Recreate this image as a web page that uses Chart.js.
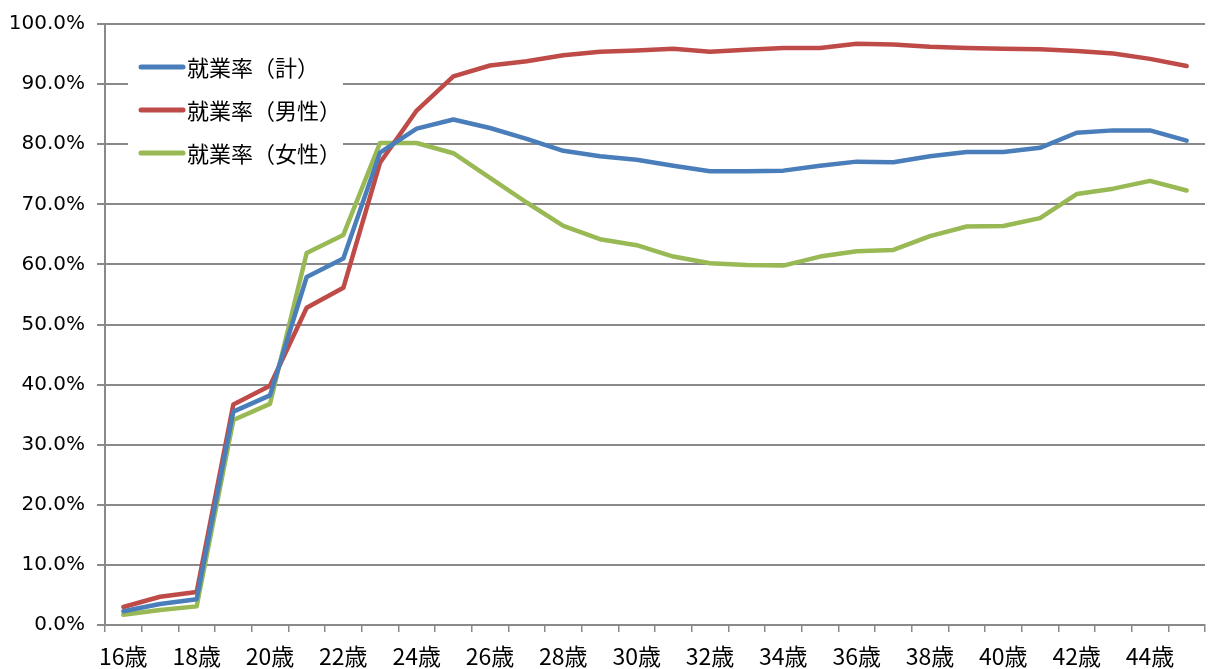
<!DOCTYPE html>
<html>
<head>
<meta charset="utf-8">
<script src="https://cdn.jsdelivr.net/npm/chart.js@4"></script>
<style>
html, body { margin: 0; padding: 0; background: #fff; }
#wrap { width: 1213px; height: 669px; }
</style>
</head>
<body>
<div id="wrap"><canvas id="chart" width="1213" height="669"></canvas></div>
<script>
const ages = [];
for (let a = 16; a <= 45; a++) ages.push(`${a}歳`);

const rateTotal = [2.3, 3.5, 4.3, 35.5, 38.2, 57.9, 61.0, 78.6, 82.6, 84.1, 82.7, 80.9, 78.9, 78.0, 77.4, 76.4, 75.5, 75.5, 75.6, 76.4, 77.1, 77.0, 78.0, 78.7, 78.7, 79.4, 81.9, 82.3, 82.3, 80.6];
const rateMale = [3.0, 4.7, 5.5, 36.7, 39.8, 52.8, 56.1, 76.9, 85.6, 91.3, 93.1, 93.8, 94.8, 95.4, 95.6, 95.9, 95.4, 95.7, 96.0, 96.0, 96.7, 96.6, 96.2, 96.0, 95.9, 95.8, 95.5, 95.1, 94.2, 93.0];
const rateFemale = [1.7, 2.5, 3.1, 34.1, 36.8, 61.9, 64.9, 80.2, 80.2, 78.5, 74.4, 70.3, 66.4, 64.2, 63.2, 61.3, 60.2, 59.9, 59.8, 61.3, 62.2, 62.4, 64.7, 66.3, 66.4, 67.7, 71.7, 72.6, 73.9, 72.3];

const yTicks = [0, 10, 20, 30, 40, 50, 60, 70, 80, 90, 100];

const gridGray = "#898989";
const fontJP = "'Noto Sans CJK JP', 'Noto Sans', sans-serif";

// legend drawn inside the plot, top-left, on a white box
const insideLegend = {
	id: "insideLegend",
	afterDraw(chart) {
		const { ctx, chartArea } = chart;
		const x0 = chartArea.left + 23;
		const y0 = chartArea.top + 16;
		ctx.save();
		ctx.fillStyle = "#fff";
		ctx.fillRect(x0, y0, 215, 130);
		ctx.font = `22px ${fontJP}`;
		ctx.textBaseline = "middle";
		chart.data.datasets.forEach((ds, i) => {
			const y = y0 + 27 + i * 43;
			ctx.strokeStyle = ds.borderColor;
			ctx.lineWidth = 5;
			ctx.lineCap = "round";
			ctx.beginPath();
			ctx.moveTo(x0 + 13, y);
			ctx.lineTo(x0 + 55, y);
			ctx.stroke();
			ctx.fillStyle = "#000";
			ctx.fillText(ds.label, x0 + 59, y + 1);
		});
		ctx.restore();
	},
};

new Chart(document.getElementById("chart"), {
	type: "line",
	data: {
		labels: ages,
		datasets: [
			{ label: "就業率（計）", data: rateTotal, borderColor: "#4A7EBB" },
			{ label: "就業率（男性）", data: rateMale, borderColor: "#BE4B48" },
			{ label: "就業率（女性）", data: rateFemale, borderColor: "#98B954" },
		],
	},
	options: {
		responsive: false,
		animation: false,
		layout: { padding: { top: 22, right: 8, left: 0, bottom: 0 } },
		elements: {
			line: { borderWidth: 4.5, tension: 0, borderCapStyle: "round", borderJoinStyle: "round" },
			point: { radius: 0, hoverRadius: 0 },
		},
		plugins: {
			legend: { display: false },
			tooltip: { enabled: false },
		},
		scales: {
			x: {
				offset: true,
				grid: {
					offset: true,
					drawOnChartArea: false,
					drawTicks: true,
					tickLength: 7,
					color: gridGray,
					lineWidth: 1.5,
				},
				border: { color: gridGray, width: 2 },
				ticks: {
					autoSkip: false,
					maxRotation: 0,
					padding: 10,
					color: "#000",
					font: { size: 23, family: fontJP },
					callback: (v, i) => (i % 2 === 0 ? ages[i] : ""),
				},
				afterFit: (scale) => { scale.height = 44; },
			},
			y: {
				min: 0,
				max: 100,
				afterBuildTicks: (scale) => { scale.ticks = yTicks.map((v) => ({ value: v })); },
				grid: {
					color: gridGray,
					lineWidth: 2,
					drawTicks: true,
					tickLength: 8,
				},
				border: { color: gridGray, width: 2 },
				ticks: {
					padding: 12,
					color: "#000",
					font: { size: 20, family: "'DejaVu Sans', sans-serif" },
					callback: (v) => `${v.toFixed(1)}%`,
				},
				afterFit: (scale) => { scale.width = 105; },
			},
		},
	},
	plugins: [insideLegend],
});
</script>
</body>
</html>
